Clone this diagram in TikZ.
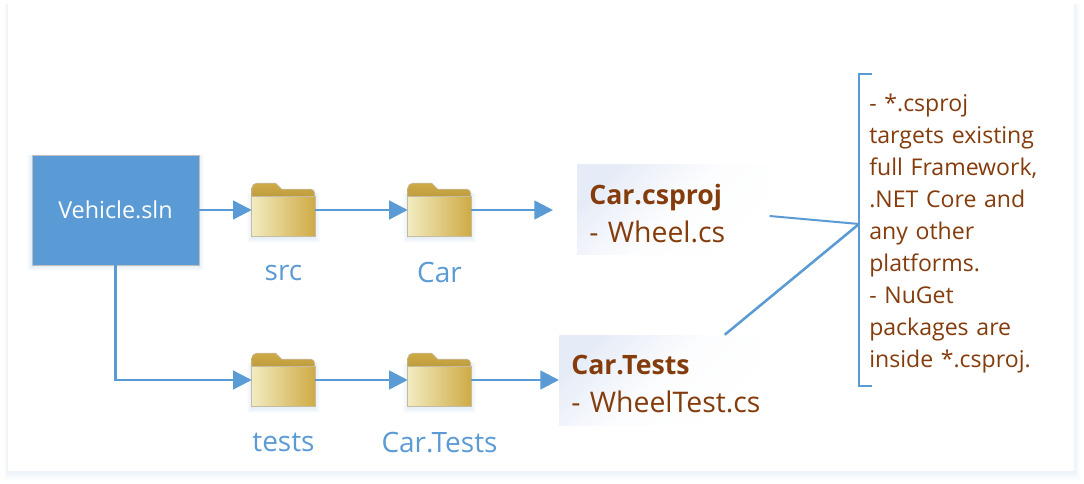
\documentclass[tikz,border=0pt]{standalone}
\usepackage{fontspec}
\setmainfont{Open Sans}
\usetikzlibrary{arrows.meta,calc,positioning}
\definecolor{lineBlue}{HTML}{5B9BD5}
\definecolor{textBrown}{HTML}{843C0C}
\definecolor{haloBlue}{HTML}{BDD7EE}
\definecolor{projBlue}{HTML}{E6ECF7}
\definecolor{folderLight}{HTML}{F1EBC0}
\definecolor{folderGold}{HTML}{CFAB45}
\definecolor{folderEdge}{HTML}{C4BBA0}
\tikzset{
  flow/.style={draw=lineBlue,line width=1.9pt,-{Triangle[length=14pt,width=14pt]}},
  link/.style={draw=lineBlue,line width=1.5pt},
  foldernode/.style={minimum width=47.25pt,minimum height=39.75pt,inner sep=0pt},
  dirlabel/.style={text=lineBlue,font=\fontsize{21}{25}\selectfont,inner sep=0pt},
  projnode/.style={left color=projBlue,right color=white,middle color=projBlue!12!white,shading angle=45,
    text=textBrown,align=left,inner sep=0pt,anchor=west,minimum height=67.5pt,
    font=\fontsize{21.3}{28.5}\selectfont}
}
\newcommand{\softshadow}[2]{%
  \foreach \s in {1,...,5}
    \fill[haloBlue,opacity=.07] ($(#1.south west)+(-\s,\s+1)$) rectangle ($(#1.north east)+(\s,#2)$);
}
\newcommand{\folder}[5]{%
  \node[foldernode] (#1) at (#2,#3) {};
  \softshadow{#1}{10}
  \draw[folderEdge,line width=.5pt,top color=folderGold,bottom color=folderGold!90!black]
    (#1.north west) ++(0,9) -- ++(0,-4) arc[start angle=180,end angle=90,radius=3.75pt]
    -- ++(19,0) -- ++(6,6) -- ++(29,0) arc[start angle=90,end angle=0,radius=3pt] -- ++(0,6) -- ++(-63,0) -- cycle;
  \draw[folderEdge,line width=.6pt,left color=folderLight,right color=folderGold]
    ($(#1.south west)+(0,-40)$) rectangle (#1.south east);
  \node[dirlabel] (#4) at ($(#1.south)+(0,36)$) {#5};
}
\newcommand{\projtext}[2]{\rule{0pt}{21pt}\hspace*{9pt}{\fontsize{20}{28.5}\selectfont\bfseries #1}\\\hspace*{9pt}\mbox{- #2}}
\begin{document}
\begin{tikzpicture}[x=.75pt,y=-.75pt]
  \useasboundingbox (0,0) rectangle (1084,484);
  \fill[white] (0,0) rectangle (1084,484);
  % page
  \foreach \s in {1,...,6}
    \fill[haloBlue,opacity=.04] (8-.6*\s,4) rectangle (1074+\s,471+1.5*\s);
  \fill[white] (8,3) rectangle (1074,471);

  % solution
  \node[inner sep=0pt,minimum width=125.25pt,minimum height=82.5pt] (slnShadow) at (115.5,210) {};
  \softshadow{slnShadow}{0}
  \node[draw=black!25,line width=.6pt,fill=lineBlue,text=white,inner sep=0pt,
    minimum width=125.25pt,minimum height=82.5pt,font=\fontsize{17.5}{21}\selectfont] (slnBox) at (115.5,210) {Vehicle.sln};

  % folders
  \folder{srcDir}{283.5}{210}{srcLabel}{src}
  \folder{carDir}{439.5}{210}{carLabel}{Car}
  \folder{testsDir}{283.5}{380}{testsLabel}{tests}
  \folder{carTestsDir}{439.5}{380}{carTestsLabel}{Car.Tests}

  % projects
  \node[projnode,minimum width=144pt,text width=144pt] (carProj) at (577,210)
    {\projtext{Car.csproj}{Wheel.cs}};
  \node[projnode,minimum width=150.75pt,text width=150.75pt] (testProj) at (559,380)
    {\projtext{Car.Tests}{WheelTest.cs}};
  \coordinate (carProjIn) at (553,210);

  % note
  \node[anchor=west,text=textBrown,align=left,inner sep=0pt,minimum height=234pt,text width=141pt,
    font=\fontsize{17.3}{24}\selectfont] (noteText) at (869,234)
    {- *.csproj\\targets existing\\full Framework,\\.NET Core and\\any other\\platforms.\\- NuGet\\packages are\\inside *.csproj.};
  \coordinate (noteTop) at (859,74);
  \coordinate (noteBottom) at (859,386);
  \coordinate (noteTip) at (859,224);
  \draw[link,line width=1.2pt] ($(noteTop)+(13,0)$) -- (noteTop) -- (noteBottom) -- ++(13,0);

  % connectors
  \draw[flow] (slnBox) -- (srcDir);
  \draw[flow] (srcDir) -- (carDir);
  \draw[flow] (carDir) -- (carProjIn);
  \draw[flow] (slnBox.south) |- (testsDir);
  \draw[flow] (testsDir) -- (carTestsDir);
  \draw[flow] (carTestsDir) -- (testProj);
  \draw[link] ($(carProj.east)+(0,6)$) -- (noteTip);
  \draw[link,line width=1.9pt] ($(testProj.north)+(65,0)$) -- (noteTip);
\end{tikzpicture}
\end{document}
